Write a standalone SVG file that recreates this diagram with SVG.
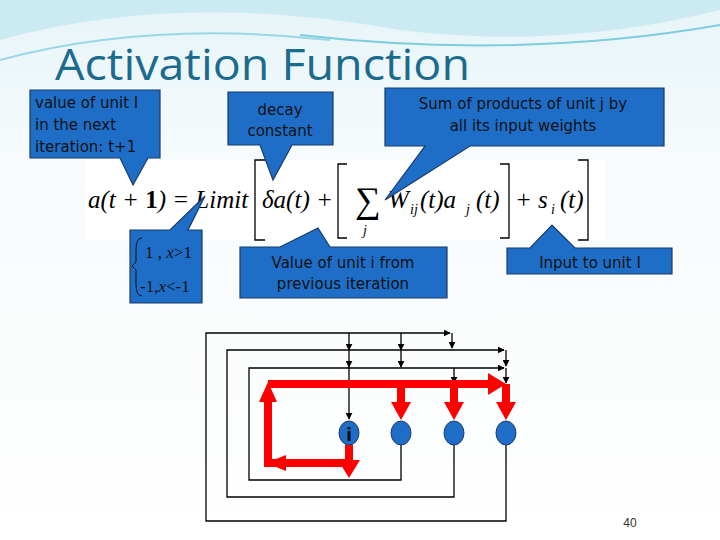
<svg xmlns="http://www.w3.org/2000/svg" width="720" height="540" viewBox="0 0 720 540">
<defs>
<linearGradient id="bg" x1="0" y1="0" x2="0" y2="1"><stop offset="0" stop-color="#e6f4f8"/><stop offset="0.3" stop-color="#f7fbfc"/><stop offset="1" stop-color="#ffffff"/></linearGradient>
<marker id="ah" viewBox="0 0 10 10" refX="9" refY="5" markerWidth="7" markerHeight="7" orient="auto" markerUnits="userSpaceOnUse"><path d="M0,0L10,5L0,10z" fill="#000"/></marker>
</defs>
<style>
.co{fill:#1e6ec8;stroke:#1a3a6a;stroke-width:1.2}
.ct{font-family:"DejaVu Sans",sans-serif;font-size:15px;fill:#111}
.m{font-family:"Liberation Serif",serif;font-style:italic;fill:#000}
.w{fill:none;stroke:#000;stroke-width:1.3}
.r{fill:none;stroke:#f00;stroke-width:8}
.rf{fill:#f00}
.nd{fill:#1e6ec8;stroke:#1a3a6a;stroke-width:1}
</style>
<rect width="720" height="540" fill="url(#bg)"/>
<path d="M0,40 Q180,-10 400,30 Q560,50 720,10 L720,0 L0,0z" fill="#bfe6f0" opacity="0.7"/>
<path d="M300,35 Q520,60 720,25" fill="none" stroke="#7ccde0" stroke-width="2"/>
<path d="M0,60 Q150,20 330,40" fill="none" stroke="#9ad8e8" stroke-width="2"/>
<text x="55" y="80" font-family="Open Sans,sans-serif" font-size="44" fill="#1b6b8f" textLength="415" lengthAdjust="spacingAndGlyphs">Activation Function</text>

<rect x="85" y="160" width="520" height="80" fill="#fff"/>
<g id="formula">
<text class="m" x="88" y="208" font-size="25">a(t + <tspan font-style="normal" font-weight="bold">1</tspan>) = Limit</text>
<path d="M265,160 L255,160 L255,240 L265,240" class="w" stroke-width="2"/>
<text class="m" x="262" y="208" font-size="25">δa(t) +</text>
<path d="M347,164 L338,164 L338,238 L347,238" class="w" stroke-width="2"/>
<text x="355" y="212" font-family="Liberation Serif,serif" font-size="36">∑</text>
<text class="m" x="363" y="235" font-size="14">j</text>
<text class="m" x="388" y="208" font-size="25">W</text>
<text class="m" x="410" y="214" font-size="14">ij</text>
<text class="m" x="420" y="208" font-size="25">(t)a</text>
<text class="m" x="466" y="214" font-size="14">j</text>
<text class="m" x="476" y="208" font-size="25">(t)</text>
<path d="M500,164 L509,164 L509,238 L500,238" class="w" stroke-width="2"/>
<text class="m" x="515" y="208" font-size="25">+ s</text>
<text class="m" x="551" y="214" font-size="14">i</text>
<text class="m" x="560" y="208" font-size="25">(t)</text>
<path d="M578,160 L588,160 L588,240 L578,240" class="w" stroke-width="2"/>
</g>

<g id="callout-next">
<path class="co" d="M30,90 H160 V158 H148 L133,185 L120,158 H30Z"/>
<text class="ct" x="35" y="108">value of unit I</text>
<text class="ct" x="35" y="130">in the next</text>
<text class="ct" x="35" y="152">iteration: t+1</text>
</g>
<g id="callout-decay">
<path class="co" d="M228,92 H333 V145 H292 L273,180 L260,145 H228Z"/>
<text class="ct" x="280" y="115" text-anchor="middle">decay</text>
<text class="ct" x="280" y="136" text-anchor="middle">constant</text>
</g>
<g id="callout-sum">
<path class="co" d="M385,88 H664 V146 H470 L385,200 L425,146 H385Z"/>
<text class="ct" x="523" y="109" text-anchor="middle">Sum of products of unit j by</text>
<text class="ct" x="523" y="131" text-anchor="middle">all its input weights</text>
</g>
<g id="callout-prev">
<path class="co" d="M240,247 H280 L318,228 L330,247 H447 V298 H240Z"/>
<text class="ct" x="343" y="268" text-anchor="middle">Value of unit i  from</text>
<text class="ct" x="343" y="289" text-anchor="middle">previous iteration</text>
</g>
<g id="callout-input">
<path class="co" d="M507,248 H530 L552,225 L575,248 H672 V274 H507Z"/>
<text class="ct" x="590" y="268" text-anchor="middle">Input to unit I</text>
</g>
<g id="callout-limit">
<path class="co" d="M130,230 H170 L205,196 L188,230 H202 V303 H130Z"/>
<path d="M142,238 Q136,238 136,250 L136,262 L132,266 L136,270 L136,284 Q136,296 142,296" fill="none" stroke="#111" stroke-width="1"/>
<text x="145" y="258" font-family="Liberation Serif,serif" font-size="17" fill="#111">1 , <tspan font-style="italic">x</tspan>&gt;1</text>
<text x="140" y="292" font-family="Liberation Serif,serif" font-size="17" fill="#111">-1,<tspan font-style="italic">x</tspan>&lt;-1</text>
</g>

<g id="connectors">
<path class="w" d="M506,445 V521 H206 V333 H450" marker-end="url(#ah)"/>
<path class="w" d="M452,333 V348" marker-end="url(#ah)"/>
<path class="w" d="M454,445 V497 H227 V350 H504" marker-end="url(#ah)"/>
<path class="w" d="M506,350 V366" marker-end="url(#ah)"/>
<path class="w" d="M401,445 V480 H249 V368 H504" marker-end="url(#ah)"/>
<path class="w" d="M506,368 V383" marker-end="url(#ah)"/>
<path class="w" d="M349,333 V350" marker-end="url(#ah)"/>
<path class="w" d="M349,350 V367" marker-end="url(#ah)"/>
<path class="w" d="M349,367 V419" marker-end="url(#ah)"/>
<path class="w" d="M401,333 V350" marker-end="url(#ah)"/>
<path class="w" d="M401,350 V367" marker-end="url(#ah)"/>
<path class="w" d="M454,368 V383" marker-end="url(#ah)"/>
<path class="r" d="M268,400 V463 H282"/>
<path class="r" d="M268,384 H490"/>
<path class="rf" d="M488,373 L506,384 L488,395Z"/>
<path class="rf" d="M259,402 L268,382 L277,402Z"/>
<path class="rf" d="M286,455 L266,463 L286,471Z"/>
<path class="r" d="M282,463 H349 V462"/>
<path class="r" d="M349,445 V462"/>
<path class="rf" d="M338,460 L360,460 L349,478Z"/>
<path class="r" d="M401,384 V404"/>
<path class="rf" d="M391,402 L411,402 L401,420Z"/>
<path class="r" d="M454,384 V404"/>
<path class="rf" d="M444,402 L464,402 L454,420Z"/>
<path class="r" d="M506,384 V404"/>
<path class="rf" d="M496,402 L516,402 L506,420Z"/>
</g>
<g id="node-i"><ellipse class="nd" cx="349" cy="433" rx="10" ry="12"/><text x="349" y="441" text-anchor="middle" font-family="DejaVu Sans,sans-serif" font-weight="bold" font-size="18" fill="#111">i</text></g>
<g id="node-2"><ellipse class="nd" cx="401" cy="433" rx="10" ry="12"/></g>
<g id="node-3"><ellipse class="nd" cx="454" cy="433" rx="10" ry="12"/></g>
<g id="node-4"><ellipse class="nd" cx="506" cy="433" rx="10" ry="12"/></g>
<text x="630" y="527" text-anchor="middle" font-family="Liberation Sans,sans-serif" font-size="12" fill="#333">40</text>
</svg>
